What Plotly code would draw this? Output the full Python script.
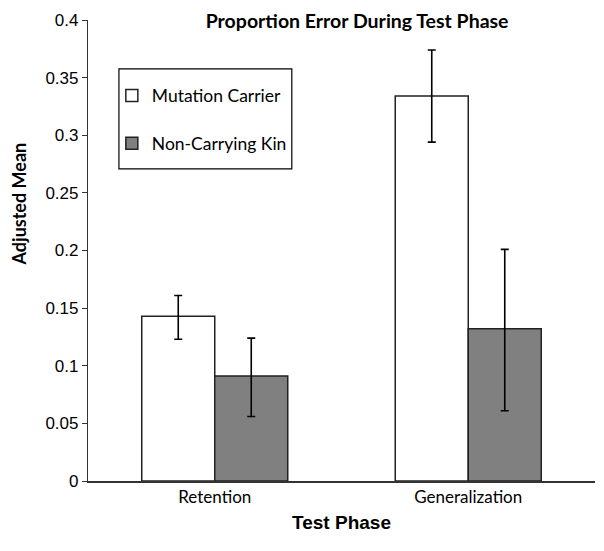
import plotly.graph_objects as go

categories = ["Retention", "Generalization"]
series_names = ["Mutation Carrier", "Non-Carrying Kin"]
carrier_mean = [0.143, 0.334]
carrier_upper = [0.161, 0.374]
carrier_lower = [0.123, 0.294]
kin_mean = [0.091, 0.132]
kin_upper = [0.124, 0.201]
kin_lower = [0.056, 0.061]
y_ticks = [0, 0.05, 0.1, 0.15, 0.2, 0.25, 0.3, 0.35, 0.4]
y_tick_labels = ["0", "0.05", "0.1", "0.15", "0.2", "0.25", "0.3", "0.35", "0.4"]

def err(mean, upper, lower):
    return dict(type="data", symmetric=False,
                array=[u - m for u, m in zip(upper, mean)],
                arrayminus=[m - l for m, l in zip(mean, lower)],
                color="black", thickness=1.6, width=4)

fig = go.Figure()
fig.add_trace(go.Bar(x=categories, y=carrier_mean, name=series_names[0],
                     legendgroup="a",
                     marker=dict(color="white", line=dict(color="#222", width=1.5)),
                     error_y=err(carrier_mean, carrier_upper, carrier_lower)))
fig.add_trace(go.Bar(x=categories, y=kin_mean, name=series_names[1],
                     legendgroup="b",
                     marker=dict(color="#808080", line=dict(color="#222", width=1.5)),
                     error_y=err(kin_mean, kin_upper, kin_lower)))

fig.update_layout(
    width=604, height=551,
    margin=dict(l=80, r=17, t=12, b=78),
    paper_bgcolor="white", plot_bgcolor="white",
    barmode="group", bargap=0.424, bargroupgap=0,
    title=dict(text="<b>Proportion Error During Test Phase</b>",
               xref="container", x=0.578, xanchor="center",
               yref="container", y=0.976, yanchor="middle",
               font=dict(family="Lato", size=19.5, color="black")),
    font=dict(family="Liberation Sans", color="black"),
    legend=dict(x=0.047, y=0.875, xanchor="left", yanchor="top",
                borderwidth=0, bgcolor="rgba(0,0,0,0)",
                font=dict(family="Lato", size=17.5, color="black"),
                tracegroupgap=22, itemwidth=30),
    showlegend=True,
    shapes=[dict(type="rect", xref="paper", yref="paper",
                 x0=0.061, x1=0.402, y0=0.677, y1=0.894,
                 line=dict(color="black", width=1.2), fillcolor="white",
                 layer="above")],
    annotations=[dict(text="<b>Adjusted Mean</b>", textangle=-90,
                      xref="paper", yref="paper", x=-0.136, y=0.6,
                      xanchor="center", yanchor="middle", showarrow=False,
                      font=dict(family="Lato", size=18, color="black"))],
)
fig.update_xaxes(showline=True, linecolor="#333", linewidth=1.5, ticks="",
                 automargin=False,
                 tickfont=dict(family="Lato", size=17, color="black"),
                 title=dict(text="<b>Test Phase</b>", standoff=10,
                            font=dict(family="Liberation Sans", size=19, color="black")))
fig.update_yaxes(range=[0, 0.4], tickvals=y_ticks, ticktext=y_tick_labels,
                 automargin=False,
                 showline=True, linecolor="#333", linewidth=1.2, ticks="outside",
                 ticklen=5, tickcolor="#333", showgrid=False, zeroline=False,
                 tickfont=dict(family="Liberation Sans", size=17, color="black"))

fig.write_html("out.html")
